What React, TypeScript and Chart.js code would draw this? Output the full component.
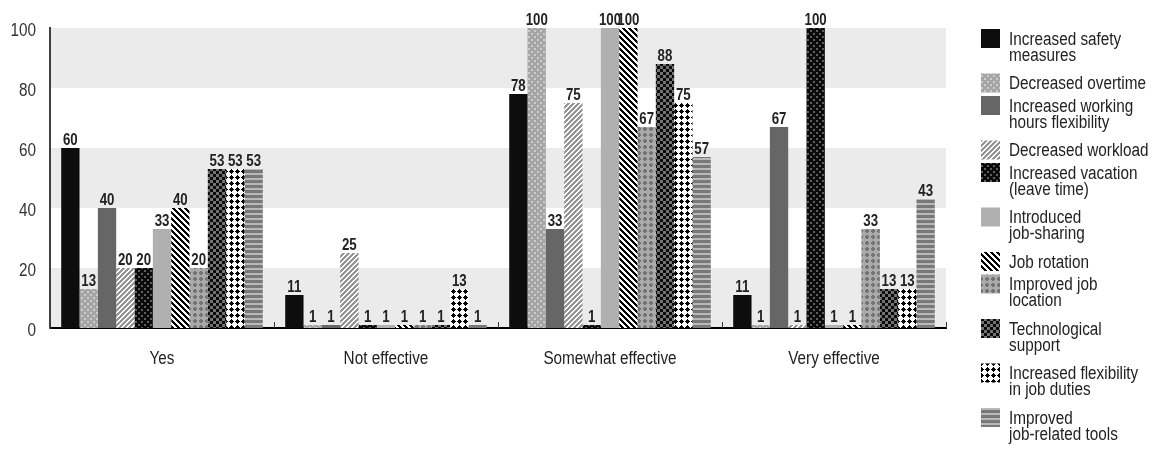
import React, { useEffect, useRef } from "react";
import { Chart, registerables } from "chart.js";

Chart.register(...registerables);

const categories = ["Yes", "Not effective", "Somewhat effective", "Very effective"];
const seriesNames = [
  "Increased safety\nmeasures",
  "Decreased overtime",
  "Increased working\nhours flexibility",
  "Decreased workload",
  "Increased vacation\n(leave time)",
  "Introduced\njob-sharing",
  "Job rotation",
  "Improved job\nlocation",
  "Technological\nsupport",
  "Increased flexibility\nin job duties",
  "Improved\njob-related tools",
];
const safetyMeasures = [60, 11, 78, 11];
const decreasedOvertime = [13, 1, 100, 1];
const workingHoursFlex = [40, 1, 33, 67];
const decreasedWorkload = [20, 25, 75, 1];
const increasedVacation = [20, 1, 1, 100];
const jobSharing = [33, 1, 100, 1];
const jobRotation = [40, 1, 100, 1];
const jobLocation = [20, 1, 67, 33];
const techSupport = [53, 1, 88, 13];
const dutiesFlex = [53, 13, 75, 13];
const jobTools = [53, 1, 57, 43];
const seriesValues = [
  safetyMeasures,
  decreasedOvertime,
  workingHoursFlex,
  decreasedWorkload,
  increasedVacation,
  jobSharing,
  jobRotation,
  jobLocation,
  techSupport,
  dutiesFlex,
  jobTools,
];
const yTicks = [0, 20, 40, 60, 80, 100];

const FONT = "'Liberation Sans', Arial, sans-serif";

function grayPattern(ctx: CanvasRenderingContext2D, size: number, fn: (x: number, y: number) => number) {
  const c = document.createElement("canvas");
  c.width = size;
  c.height = size;
  const g = c.getContext("2d")!;
  const img = g.createImageData(size, size);
  for (let y = 0; y < size; y++) {
    for (let x = 0; x < size; x++) {
      const v = fn(x, y);
      const i = (y * size + x) * 4;
      img.data[i] = v;
      img.data[i + 1] = v;
      img.data[i + 2] = v;
      img.data[i + 3] = 255;
    }
  }
  g.putImageData(img, 0, 0);
  return ctx.createPattern(c, "repeat") as CanvasPattern;
}

function makeFills(ctx: CanvasRenderingContext2D): (string | CanvasPattern)[] {
  return [
    "#0d0d0d",
    grayPattern(ctx, 6, (x, y) => ((x < 2 && y < 2) || (x >= 3 && x < 5 && y >= 3 && y < 5) ? 205 : 165)),
    "#666666",
    grayPattern(ctx, 5, (x, y) => ((x + y) % 5 < 3 ? 150 : 255)),
    grayPattern(ctx, 6, (x, y) => ((x < 2 && y < 2) || (x >= 3 && x < 5 && y >= 3 && y < 5) ? 95 : 10)),
    "#b0b0b0",
    grayPattern(ctx, 6, (x, y) => (((x - y) % 6 + 6) % 6 < 3 ? 0 : 255)),
    grayPattern(ctx, 6, (x, y) => (Math.abs(x - 2.5) + Math.abs(y - 2.5) <= 2 ? 115 : 170)),
    grayPattern(ctx, 6, (x, y) => ((x < 3) !== (y < 3) ? 10 : 115)),
    grayPattern(ctx, 6, (x, y) => (Math.abs(x - 3) + Math.abs(y - 3) <= 2 ? 0 : 255)),
    grayPattern(ctx, 5, (x, y) => (y % 5 < 3 ? 120 : 185)),
  ];
}

function drawText(
  c: CanvasRenderingContext2D,
  text: string,
  x: number,
  y: number,
  align: CanvasTextAlign,
  baseline: CanvasTextBaseline,
  font: string,
  color: string,
  sx: number
) {
  c.save();
  c.translate(x, y);
  c.scale(sx, 1);
  c.font = font;
  c.fillStyle = color;
  c.textAlign = align;
  c.textBaseline = baseline;
  c.fillText(text, 0, 0);
  c.restore();
}

export default function App() {
  const ref = useRef<HTMLCanvasElement | null>(null);

  useEffect(() => {
    document.body.style.margin = "0";
    const canvas = ref.current!;
    const ctx = canvas.getContext("2d")!;
    const fills = makeFills(ctx);

    const backgroundPlugin = {
      id: "bands",
      beforeDraw(chart: any) {
        const c = chart.ctx;
        const { left, right } = chart.chartArea;
        const y = chart.scales.y;
        c.save();
        c.fillStyle = "#ffffff";
        c.fillRect(0, 0, chart.width, chart.height);
        c.fillStyle = "#ebebeb";
        for (let i = 0; i + 1 < yTicks.length; i += 2) {
          const top = y.getPixelForValue(yTicks[i + 1]);
          const bot = y.getPixelForValue(yTicks[i]);
          c.fillRect(left + 1, top, right - left - 1, bot - top);
        }
        c.restore();
      },
    };

    const overlayPlugin = {
      id: "overlay",
      afterDatasetsDraw(chart: any) {
        const c = chart.ctx;
        const { left, right, bottom } = chart.chartArea;
        const xs = chart.scales.x;
        const ys = chart.scales.y;
        c.save();
        // category separator ticks
        c.strokeStyle = "#333";
        c.lineWidth = 1;
        const n = categories.length;
        for (let i = 0; i <= n; i++) {
          const x = Math.round(left + ((right - left) * i) / n) + 0.5;
          c.beginPath();
          c.moveTo(x, bottom - 6);
          c.lineTo(x, bottom);
          c.stroke();
        }
        c.restore();
        // y tick labels
        yTicks.forEach((v) => {
          drawText(c, String(v), 36, ys.getPixelForValue(v) + 8, "right", "alphabetic", `18px ${FONT}`, "#333", 0.85);
        });
        // x category labels
        categories.forEach((cat, i) => {
          drawText(c, cat, xs.getPixelForValue(i), 364, "center", "alphabetic", `18px ${FONT}`, "#222", 0.85);
        });
        // value labels
        chart.data.datasets.forEach((ds: any, di: number) => {
          const meta = chart.getDatasetMeta(di);
          meta.data.forEach((el: any, i: number) => {
            drawText(c, String(ds.data[i]), el.x, el.y - 3, "center", "alphabetic", `bold 17px ${FONT}`, "#222", 0.78);
          });
        });
        // legend
        let ly = 40;
        seriesNames.forEach((name, i) => {
          const lines = name.split("\n");
          c.save();
          c.fillStyle = fills[i] as any;
          c.fillRect(981, ly - 11, 19, 19);
          c.restore();
          lines.forEach((ln, k) =>
            drawText(c, ln, 1009, ly + k * 16, "left", "middle", `18px ${FONT}`, "#222", 0.85)
          );
          ly += lines.length === 1 ? 22.5 : 44.5;
        });
      },
    };

    const chart = new Chart(canvas, {
      type: "bar",
      data: {
        labels: categories,
        datasets: seriesValues.map((vals, i) => ({
          label: seriesNames[i].replace("\n", " "),
          data: vals,
          backgroundColor: fills[i] as any,
          borderWidth: 0,
          categoryPercentage: 0.9,
          barPercentage: 1,
        })),
      },
      options: {
        responsive: false,
        animation: false,
        devicePixelRatio: 1,
        layout: { padding: { top: 28, right: 214, left: 0, bottom: 0 } },
        plugins: { legend: { display: false }, tooltip: { enabled: false } },
        scales: {
          x: {
            grid: { display: false, drawTicks: false },
            border: { display: true, color: "#000", width: 2 },
            ticks: { display: false },
            afterFit: (s: any) => {
              s.height = 122;
            },
          },
          y: {
            min: 0,
            max: 100,
            grid: { display: false, drawTicks: false },
            border: { display: true, color: "#404040", width: 2 },
            ticks: { display: false },
            afterBuildTicks: (s: any) => {
              s.ticks = yTicks.map((v) => ({ value: v }));
            },
            afterFit: (s: any) => {
              s.width = 50;
            },
          },
        },
      } as any,
      plugins: [backgroundPlugin, overlayPlugin],
    });
    return () => chart.destroy();
  }, []);

  return (
    <div style={{ width: 1160, height: 450 }}>
      <canvas ref={ref} width={1160} height={450} style={{ display: "block" }} />
    </div>
  );
}
